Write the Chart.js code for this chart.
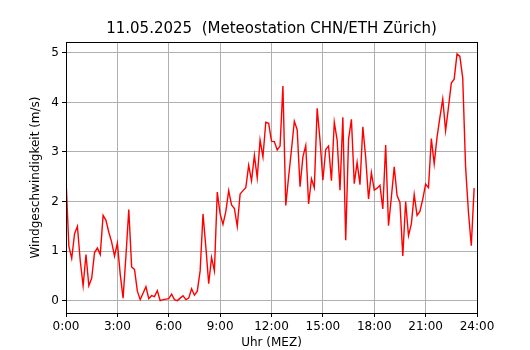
<!DOCTYPE html>
<html>
<head>
<meta charset="utf-8">
<script src="https://cdn.jsdelivr.net/npm/chart.js@4/dist/chart.umd.min.js"></script>
<style>
  body { margin: 0; background: #fff; }
  #wrap { width: 530px; height: 350px; }
</style>
</head>
<body>
<div id="wrap"><canvas id="windChart" width="530" height="350"></canvas></div>
<script>
//#region data
const chartTitle = "11.05.2025  (Meteostation CHN/ETH Zürich)";
const xTitle = "Uhr (MEZ)";
const yTitle = "Windgeschwindigkeit (m/s)";

// measurement interval in minutes (one value every 10 min, starting 0:00)
const stepMinutes = 10;

// wind speed in m/s, 0:00 .. 23:50
const windSpeed = [
  2.45, 1.1, 0.85, 1.35, 1.5, 0.8, 0.3, 0.93, 0.3, 0.45, 0.97, 1.06,
  0.93, 1.72, 1.62, 1.38, 1.18, 0.9, 1.16, 0.53, 0.05, 0.9, 1.84, 0.68,
  0.63, 0.19, 0.02, 0.15, 0.28, 0.04, 0.1, 0.08, 0.2, 0.0, 0.02, 0.03,
  0.04, 0.13, 0.02, 0.0, 0.05, 0.1, 0.02, 0.05, 0.24, 0.11, 0.19, 0.6,
  1.75, 1.08, 0.34, 0.87, 0.6, 2.19, 1.75, 1.54, 1.8, 2.22, 1.93, 1.86,
  1.5, 2.15, 2.22, 2.28, 2.73, 2.42, 2.93, 2.48, 3.24, 2.9, 3.6, 3.58,
  3.22, 3.21, 3.04, 3.12, 4.33, 1.92, 2.5, 3.05, 3.62, 3.45, 2.3, 2.9,
  3.13, 1.95, 2.46, 2.28, 3.88, 3.24, 2.43, 3.05, 3.12, 2.42, 3.6, 3.24,
  2.23, 3.7, 1.22, 3.26, 3.66, 2.36, 2.79, 2.34, 3.51, 2.89, 2.05, 2.58,
  2.23, 2.27, 2.33, 1.85, 3.14, 1.51, 2.09, 2.7, 2.12, 1.98, 0.9, 2.0,
  1.31, 1.55, 2.14, 1.72, 1.8, 2.05, 2.35, 2.28, 3.27, 2.76, 3.3, 3.7,
  4.07, 3.43, 3.9, 4.39, 4.47, 4.98, 4.93, 4.49, 2.7, 1.79, 1.11, 2.27
];

// tick positions (hours) and labels
const xTicks = [0, 3, 6, 9, 12, 15, 18, 21, 24];
const xTickLabels = ["0:00", "3:00", "6:00", "9:00", "12:00", "15:00", "18:00", "21:00", "24:00"];
const yTicks = [0, 1, 2, 3, 4, 5];
const yTickLabels = ["0", "1", "2", "3", "4", "5"];
//#endregion

// build the {x, y} points, x in hours
const points = windSpeed.map((v, i) => ({ x: (i * stepMinutes) / 60, y: v }));

// box round the plot area (like matplotlib spines) + title centred over the plot
const frame = {
  id: "frame",
  afterDatasetsDraw(chart) {
    const { ctx, chartArea: a } = chart;
    ctx.save();
    ctx.strokeStyle = "#000";
    ctx.lineWidth = 1;
    ctx.strokeRect(Math.round(a.left) + 0.5, Math.round(a.top) + 0.5,
      Math.round(a.right - a.left), Math.round(a.bottom - a.top));

    // title
    ctx.fillStyle = "#000";
    ctx.font = "15px 'DejaVu Sans', sans-serif";
    ctx.textAlign = "center";
    ctx.textBaseline = "middle";
    ctx.fillText(chartTitle, (a.left + a.right) / 2, 29);
    ctx.restore();
  },
};

Chart.defaults.font.family = "'DejaVu Sans', sans-serif";
Chart.defaults.color = "#000";

new Chart(document.getElementById("windChart"), {
  type: "line",
  data: {
    datasets: [
      {
        data: points,
        borderColor: "#ff0000",
        borderWidth: 1.4,
        pointRadius: 0,
        tension: 0,
        fill: false,
      },
    ],
  },
  options: {
    responsive: false,
    animation: false,
    layout: { padding: { left: 0, right: 53, top: 42, bottom: 0 } },
    plugins: {
      legend: { display: false },
      tooltip: { enabled: false },
      title: { display: false },
    },
    scales: {
      x: {
        type: "linear",
        min: 0,
        max: 24,
        afterBuildTicks: (axis) => {
          axis.ticks = xTicks.map((v) => ({ value: v }));
        },
        afterFit: (axis) => {
          axis.height = 37;
        },
        ticks: {
          autoSkip: false,
          maxRotation: 0,
          padding: 3,
          font: { size: 12 },
          callback: (v) => xTickLabels[xTicks.indexOf(v)],
        },
        grid: { color: "#b0b0b0", lineWidth: 1, tickColor: "#000", tickLength: 4 },
        border: { display: true, color: "#000" },
        title: { display: true, text: xTitle, font: { size: 12 }, padding: 0 },
      },
      y: {
        type: "linear",
        min: -0.25,
        max: 5.22,
        afterBuildTicks: (axis) => {
          axis.ticks = yTicks.map((v) => ({ value: v }));
        },
        afterFit: (axis) => {
          axis.width = 66;
        },
        ticks: {
          padding: 3,
          font: { size: 12 },
          callback: (v) => yTickLabels[yTicks.indexOf(v)],
        },
        grid: { color: "#b0b0b0", lineWidth: 1, tickColor: "#000", tickLength: 4 },
        border: { display: true, color: "#000" },
        title: { display: true, text: yTitle, font: { size: 12 }, padding: { top: 29 } },
      },
    },
  },
  plugins: [frame],
});
</script>
</body>
</html>
